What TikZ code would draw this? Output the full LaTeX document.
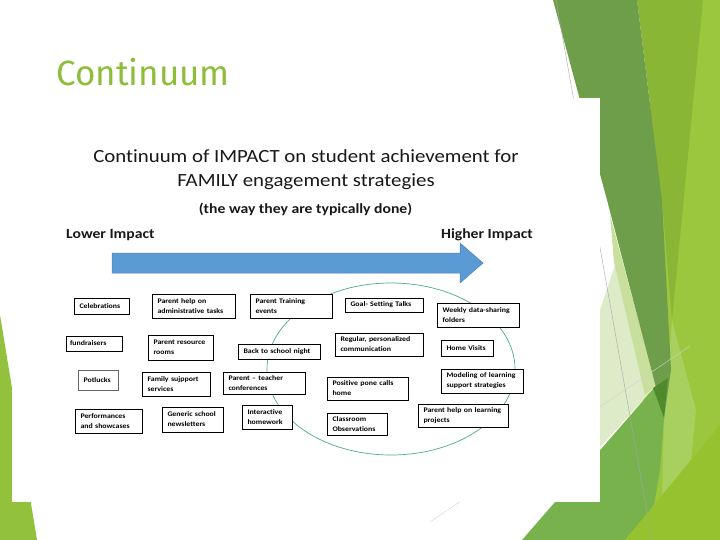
\documentclass[tikz,border=0pt]{standalone}
\usepackage{fontspec}
\setmainfont{Carlito}
\newfontfamily\imgfont[FakeStretch=1.12, Ligatures={TeX,NoCommon}]{Carlito}
\newfontfamily\slidefont{Fira Sans}
\definecolor{dkband}{HTML}{6F9E4A}
\definecolor{midband}{HTML}{89B735}
\definecolor{limeband}{HTML}{9BC73E}
\definecolor{medgreen}{HTML}{78B24D}
\definecolor{darkpatch}{HTML}{4F8B2C}
\definecolor{limebot}{HTML}{96C22F}
\definecolor{palegreen}{HTML}{DEEBC8}
\definecolor{softgreen}{HTML}{C8DF9E}
\definecolor{lightlime}{HTML}{A8D05E}
\definecolor{leftstrip}{HTML}{92C13B}
\definecolor{titlegreen}{HTML}{8EBD3C}
\definecolor{arrowblue}{HTML}{5B9BD5}
\definecolor{arrowedge}{HTML}{4A80B8}
\definecolor{ringgreen}{HTML}{4EAE82}
\begin{document}
\begin{tikzpicture}[x=1pt,y=-1pt,
  box/.style={draw=black, line width=0.75pt, fill=white,
    font=\imgfont\bfseries\fontsize{7}{10}\selectfont, align=left,
    inner xsep=5.5pt, inner ysep=0pt, text=black},
  lbl/.style={inner sep=0pt, anchor=base, text=black!90}]
\useasboundingbox (0,0) rectangle (720,540);
% slide decorations
\fill[limeband] (645,0) -- (720,0) -- (720,540) -- (620,540) -- (660,300) -- cycle;
\fill[midband] (637,0) -- (703,0) -- (672,320) -- (662,200) -- cycle;
\fill[lightlime] (672,320) -- (696,410) -- (690,470) -- (662,505) -- (664,418) -- cycle;
\fill[palegreen] (600,310) -- (616,262) -- (655,387) -- (600,447) -- cycle;
\fill[softgreen] (610,215) -- (656,385) -- (645,395) -- (614,262) -- cycle;
\fill[dkband] (553,0) -- (637,0) -- (662,200) -- (671,370) -- (664,418) -- (652,372) -- (607,200) -- cycle;
\fill[medgreen] (522,540) -- (655,387) -- (664,418) -- (660,470) -- (648,540) -- cycle;
\fill[darkpatch] (653,388) -- (668,378) -- (664,418) -- cycle;
\fill[limebot] (625,540) -- (720,425) -- (720,540) -- cycle;
\fill[leftstrip] (0,315) -- (37,540) -- (0,540) -- cycle;
\draw[gray!70, line width=0.4pt] (556,0) -- (652,540);
\draw[gray!35, line width=0.4pt] (430,522) -- (690,346);
% image panel
\fill[white] (12,98) rectangle (600,502);
% slide title
\node[inner sep=0pt, anchor=base west, text=titlegreen, font=\slidefont\fontsize{35}{38}\selectfont] (ttl) at (56,86) {Continuum};
% headings
\node[lbl, font=\imgfont\fontsize{18.6}{22}\selectfont] (t1) at (306,163) {Continuum of IMPACT on student achievement for};
\node[lbl, font=\imgfont\fontsize{18.6}{22}\selectfont] (t2) at (306,187) {FAMILY engagement strategies};
\node[lbl, font=\imgfont\bfseries\fontsize{14}{16}\selectfont] (t3) at (305.5,214) {(the way they are typically done)};
\node[lbl, anchor=base west, font=\imgfont\bfseries\fontsize{14}{16}\selectfont] (lo) at (66,238) {Lower Impact};
\node[lbl, anchor=base east, font=\imgfont\bfseries\fontsize{14}{16}\selectfont] (hi) at (533,238) {Higher Impact};
% arrow
\fill[arrowblue, draw=arrowedge, line width=0.5pt] (112,253) -- (460,253) -- (460,243) -- (483,263) -- (460,283) -- (460,273) -- (112,273) -- cycle;
% ellipse
\draw[ringgreen, line width=0.7pt] (391,369) ellipse [x radius=124, y radius=86];
% boxes
\node[box, minimum width=55pt, minimum height=16pt, text width=44pt] (cel) at (101.5,306) {Celebrations};
\node[box, minimum width=83pt, minimum height=24pt, text width=72pt] (pha) at (193.5,306) {Parent help on\\administrative tasks};
\node[box, minimum width=82pt, minimum height=24pt, text width=71pt] (pte) at (291,306) {Parent Training\\events};
\node[box, minimum width=78pt, minimum height=14pt, text width=67pt] (gst) at (384,305) {Goal- Setting Talks};
\node[box, minimum width=82pt, minimum height=24pt, text width=71pt] (wds) at (478,315) {Weekly data-sharing\\folders};
\node[box, minimum width=56pt, minimum height=15pt, text width=48pt, inner xsep=4pt] (fun) at (94,343.5) {fundraisers};
\node[box, minimum width=65pt, minimum height=25pt, text width=54pt] (prr) at (180.5,347.5) {Parent resource\\rooms};
\node[box, minimum width=82pt, minimum height=15pt, text width=71pt] (bsn) at (279,351.5) {Back to school night};
\node[box, minimum width=88pt, minimum height=23pt, text width=77pt] (rpc) at (379,344.5) {Regular, personalized\\communication};
\node[box, minimum width=52pt, minimum height=16pt, text width=41pt] (hv) at (467,348) {Home Visits};
\node[box, draw=black!60, minimum width=40pt, minimum height=20pt, text width=29pt] (pot) at (98,380) {Potlucks};
\node[box, minimum width=68pt, minimum height=24pt, text width=57pt] (fss) at (176,384) {Family sujpport\\services};
\node[box, minimum width=82pt, minimum height=22pt, text width=71pt] (ptc) at (264,383) {Parent – teacher\\conferences};
\node[box, minimum width=81pt, minimum height=23pt, text width=70pt] (ppc) at (367.5,388.5) {Positive pone calls\\home};
\node[box, minimum width=82pt, minimum height=24pt, text width=71pt] (mls) at (482,381) {Modeling of learning\\support strategies};
\node[box, minimum width=67pt, minimum height=24pt, text width=56pt] (pas) at (108.5,421) {Performances\\and showcases};
\node[box, minimum width=61pt, minimum height=25pt, text width=50pt] (gsn) at (192.5,419.5) {Generic school\\newsletters};
\node[box, minimum width=50pt, minimum height=24pt, text width=39pt] (ihw) at (267,417) {Interactive\\homework};
\node[box, minimum width=60pt, minimum height=22pt, text width=49pt] (cob) at (357,424) {Classroom\\Observations};
\node[box, minimum width=90pt, minimum height=23pt, text width=79pt] (phl) at (463,415.5) {Parent help on learning\\projects};
\end{tikzpicture}
\end{document}
